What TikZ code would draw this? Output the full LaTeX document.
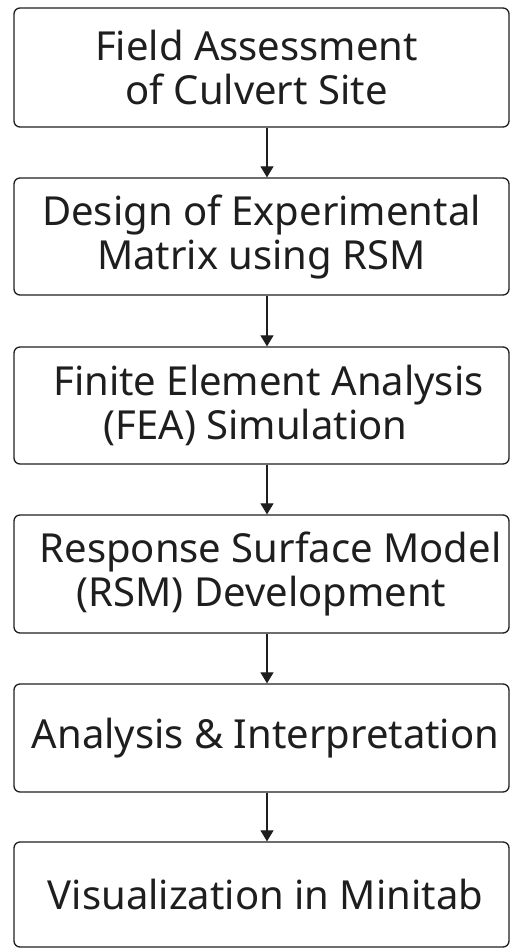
\documentclass[tikz,border=0pt]{standalone}
\usepackage{fontspec}
\setmainfont{Noto Sans}
\usetikzlibrary{arrows.meta}
\definecolor{ink}{HTML}{1E1E1E}
\tikzset{
  stepbox/.style={draw=ink, line width=1.3pt, rounded corners=6pt, minimum width=495pt,
    inner sep=0pt, align=center, text=ink, font=\fontsize{40}{44}\selectfont},
  arr/.style={draw=ink, line width=1.2pt, -{Triangle[width=13pt,length=11pt]}}
}
\begin{document}
\begin{tikzpicture}[x=1pt,y=-1pt]
\useasboundingbox (0,0) rectangle (511,948);
\node[stepbox, minimum height=119pt] (b1) at (261.5,67.5) {\hspace*{0pt}Field Assessment\hspace*{10pt}\\of Culvert Site\hspace*{10pt}};
\node[stepbox, minimum height=117pt] (b2) at (261.5,236.5) {Design of Experimental\\Matrix using RSM};
\node[stepbox, minimum height=117pt] (b3) at (261.5,405.5) {\hspace*{14pt}Finite Element Analysis\\(FEA) Simulation\hspace*{12pt}};
\node[stepbox, minimum height=118pt] (b4) at (261.5,574) {\hspace*{18pt}Response Surface Model\\(RSM) Development};
\node[stepbox, minimum height=108pt] (b5) at (261.5,738) {\hspace*{8pt}Analysis \& Interpretation};
\node[stepbox, minimum height=105pt] (b6) at (261.5,894.5) {\hspace*{8pt}Visualization in Minitab};
\coordinate (ax) at (267,0);
\draw[arr] (b1.south -| ax) -- (b2.north -| ax);
\draw[arr] (b2.south -| ax) -- (b3.north -| ax);
\draw[arr] (b3.south -| ax) -- (b4.north -| ax);
\draw[arr] (b4.south -| ax) -- (b5.north -| ax);
\draw[arr] (b5.south -| ax) -- (b6.north -| ax);
\end{tikzpicture}
\end{document}
